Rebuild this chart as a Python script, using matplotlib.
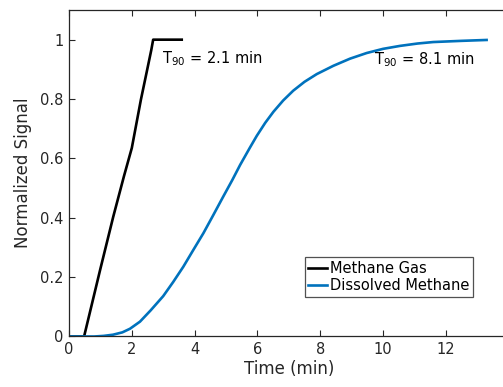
import matplotlib
matplotlib.use("Agg")
import matplotlib.pyplot as plt

# Data
gas_time = [0, 0.48, 0.99, 1.41, 1.75, 2.0, 2.29, 2.49, 2.62, 2.68, 3.0, 3.3, 3.59]
gas_signal = [0, 0, 0.224, 0.404, 0.54, 0.635, 0.798, 0.899, 0.965, 1.0, 1.0, 1.0, 1.0]

dis_time = [0, 0.8, 1.1, 1.4, 1.7, 1.94, 2.26, 2.6, 3.0, 3.32, 3.64, 3.95, 4.28,
            4.6, 4.91, 5.2, 5.45, 5.76, 5.98, 6.25, 6.51, 6.82, 7.14, 7.5, 7.89,
            8.42, 8.95, 9.48, 10.0, 10.54, 11.1, 11.6, 12.5, 13.3]
dis_signal = [0, 0, 0.002, 0.006, 0.014, 0.026, 0.05, 0.088, 0.136, 0.184, 0.235,
              0.29, 0.348, 0.41, 0.471, 0.527, 0.578, 0.636, 0.676, 0.72, 0.757,
              0.795, 0.828, 0.858, 0.884, 0.912, 0.936, 0.955, 0.969, 0.979, 0.987,
              0.992, 0.996, 0.999]

series_labels = ["Methane Gas", "Dissolved Methane"]
x_ticks = [0, 2, 4, 6, 8, 10, 12]
y_ticks = [0, 0.2, 0.4, 0.6, 0.8, 1]
y_tick_labels = ["0", "0.2", "0.4", "0.6", "0.8", "1"]
annotations = [(2.95, 0.922, r"T$_{90}$ = 2.1 min"), (9.71, 0.916, r"T$_{90}$ = 8.1 min")]

plt.rcParams['font.family'] = ['DejaVu Sans']
plt.rcParams['mathtext.default'] = 'regular'

dark = '#262626'
fig = plt.figure(figsize=(5.03, 3.87), dpi=100)
ax = fig.add_axes([0.1372, 0.1305, 0.8739, 0.8437])

ax.plot(gas_time, gas_signal, color='black', lw=1.9, label=series_labels[0])
ax.plot(dis_time, dis_signal, color='#0072BD', lw=1.9, label=series_labels[1])

for x, y, t in annotations:
    ax.text(x, y, t, fontsize=10.5, color='black', va='baseline', ha='left')

ax.set_xlim(0, 14)
ax.set_ylim(0, 1.1)
ax.set_xticks(x_ticks)
ax.set_yticks(y_ticks)
ax.set_yticklabels(y_tick_labels)
ax.tick_params(direction='in', top=True, right=True, length=4, width=0.8,
               colors=dark, labelsize=10.5, labelcolor=dark, pad=4)
for s in ax.spines.values():
    s.set_color(dark)
    s.set_linewidth(0.9)

ax.set_xlabel("Time (min)", fontsize=12, color=dark, labelpad=2)
ax.set_ylabel("Normalized Signal", fontsize=12, color=dark, labelpad=6)

leg = ax.legend(loc='lower right', bbox_to_anchor=(0.918, 0.122), fontsize=10.5,
                frameon=True, fancybox=False, handlelength=1.3, handletextpad=0.15,
                borderpad=0.25, labelspacing=0.15, borderaxespad=0)
leg.get_frame().set_edgecolor(dark)
leg.get_frame().set_linewidth(0.9)

fig.savefig("out.png", dpi=100)
